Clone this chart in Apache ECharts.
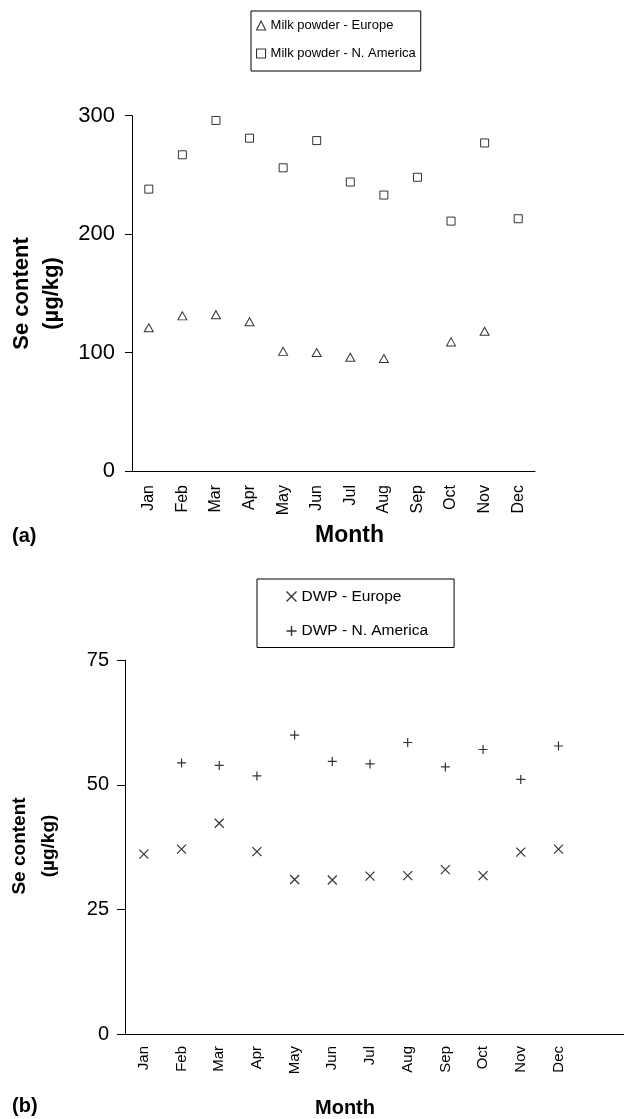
<!DOCTYPE html>
<html>
<head>
<meta charset="utf-8">
<script src="https://cdn.jsdelivr.net/npm/echarts@6/dist/echarts.min.js"></script>
<style>
  html, body { margin: 0; padding: 0; background: #fff; }
  #chart { width: 624px; height: 1119px; }
</style>
</head>
<body>
<div id="chart"></div>
<script>
// data
const months = ['Jan', 'Feb', 'Mar', 'Apr', 'May', 'Jun', 'Jul', 'Aug', 'Sep', 'Oct', 'Nov', 'Dec']
const milkEurope = [121, 131, 132, 126, 101, 100, 96, 95, null, 109, 118, null]
const milkNAmerica = [238, 267, 296, 281, 256, 279, 244, 233, 248, 211, 277, 213]
const dwpEurope = [36.1, 37.1, 42.3, 36.6, 31.0, 30.9, 31.7, 31.8, 33.0, 31.8, 36.5, 37.1]
const dwpNAmerica = [null, 54.4, 53.9, 51.8, 60.0, 54.7, 54.2, 58.5, 53.6, 57.1, 51.1, 57.8]
const ticksA = [0, 100, 200, 300]
const ticksB = [0, 25, 50, 75]

const FONT = '"Liberation Sans", Arial, Helvetica, sans-serif'
const BLACK = '#000'

const clean = arr => arr.map(v => (v == null ? '-' : v))

const xAxisBase = (gridIndex, data, fontSize, margin) => ({
  type: 'category',
  gridIndex,
  data,
  boundaryGap: true,
  axisLine: { lineStyle: { color: BLACK, width: 1 } },
  axisTick: { show: false },
  axisLabel: { rotate: 90, interval: 0, color: BLACK, fontFamily: FONT, fontSize, margin },
  splitLine: { show: false }
})

const yAxisBase = (gridIndex, ticks, fontSize, margin, tickLen) => ({
  type: 'value',
  gridIndex,
  min: ticks[0],
  max: ticks[ticks.length - 1],
  interval: ticks[1] - ticks[0],
  axisLine: { show: true, lineStyle: { color: BLACK, width: 1 } },
  axisTick: { show: true, inside: false, length: tickLen, lineStyle: { color: BLACK } },
  axisLabel: { color: BLACK, fontFamily: FONT, fontSize, margin },
  splitLine: { show: false }
})

const openStyle = { color: '#fff', borderColor: BLACK, borderWidth: 1 }
const lineStyle = { color: 'none', borderColor: BLACK, borderWidth: 1.2 }
const crossPath = 'path://M0,0L10,10M10,0L0,10'
const plusPath = 'path://M5,0L5,10M0,5L10,5'

const legendBase = {
  orient: 'vertical',
  borderColor: BLACK,
  borderWidth: 1,
  borderRadius: 0,
  selectedMode: false
}

const chart = echarts.init(document.getElementById('chart'))

chart.setOption({
  animation: false,
  backgroundColor: '#fff',
  grid: [
    { left: 132, top: 115.7, width: 403, height: 355.3 },
    { left: 125, top: 660.3, width: 490, height: 373.7 }
  ],
  xAxis: [
    xAxisBase(0, months, 16, 14),
    xAxisBase(1, months.concat(['']), 15, 12)
  ],
  yAxis: [
    yAxisBase(0, ticksA, 22, 17, 7),
    yAxisBase(1, ticksB, 20, 16, 8)
  ],
  legend: [
    Object.assign({}, legendBase, {
      left: 251,
      top: 11,
      padding: [7, 5, 10, 5],
      itemGap: 13,
      itemWidth: 9,
      itemHeight: 9,
      itemStyle: { borderWidth: 1.1 },
      textStyle: { color: BLACK, fontFamily: FONT, fontSize: 13, lineHeight: 15 },
      data: ['Milk powder - Europe', 'Milk powder - N. America']
    }),
    Object.assign({}, legendBase, {
      left: 257,
      top: 579,
      padding: [9, 26, 8, 27],
      itemGap: 17.5,
      itemWidth: 10,
      itemHeight: 10,
      itemStyle: { borderWidth: 1.4 },
      textStyle: { color: BLACK, fontFamily: FONT, fontSize: 15.5, lineHeight: 17 },
      data: ['DWP - Europe', 'DWP - N. America']
    })
  ],
  series: [
    {
      name: 'Milk powder - Europe',
      type: 'scatter',
      xAxisIndex: 0,
      yAxisIndex: 0,
      symbol: 'triangle',
      symbolSize: [9, 8],
      itemStyle: openStyle,
      silent: true,
      data: clean(milkEurope)
    },
    {
      name: 'Milk powder - N. America',
      type: 'scatter',
      xAxisIndex: 0,
      yAxisIndex: 0,
      symbol: 'rect',
      symbolSize: 8,
      itemStyle: openStyle,
      silent: true,
      data: clean(milkNAmerica)
    },
    {
      name: 'DWP - Europe',
      type: 'scatter',
      xAxisIndex: 1,
      yAxisIndex: 1,
      symbol: crossPath,
      symbolSize: 9,
      itemStyle: lineStyle,
      silent: true,
      data: clean(dwpEurope)
    },
    {
      name: 'DWP - N. America',
      type: 'scatter',
      xAxisIndex: 1,
      yAxisIndex: 1,
      symbol: plusPath,
      symbolSize: 9,
      itemStyle: lineStyle,
      silent: true,
      data: clean(dwpNAmerica)
    }
  ],
  graphic: [
    {
      type: 'text', x: 36.7, y: 293.5, rotation: Math.PI / 2,
      style: { text: 'Se content\n(µg/kg)', fontFamily: FONT, fontSize: 22, fontWeight: 'bold',
        lineHeight: 30, fill: BLACK, align: 'center', verticalAlign: 'middle' }
    },
    {
      type: 'text', x: 349.5, y: 536,
      style: { text: 'Month', fontFamily: FONT, fontSize: 23, fontWeight: 'bold',
        fill: BLACK, align: 'center', verticalAlign: 'middle' }
    },
    {
      type: 'text', x: 12, y: 536,
      style: { text: '(a)', fontFamily: FONT, fontSize: 20, fontWeight: 'bold',
        fill: BLACK, align: 'left', verticalAlign: 'middle' }
    },
    {
      type: 'text', x: 34.5, y: 846, rotation: Math.PI / 2,
      style: { text: 'Se content\n(µg/kg)', fontFamily: FONT, fontSize: 19, fontWeight: 'bold',
        lineHeight: 29, fill: BLACK, align: 'center', verticalAlign: 'middle' }
    },
    {
      type: 'text', x: 345, y: 1108,
      style: { text: 'Month', fontFamily: FONT, fontSize: 20, fontWeight: 'bold',
        fill: BLACK, align: 'center', verticalAlign: 'middle' }
    },
    {
      type: 'text', x: 12, y: 1106,
      style: { text: '(b)', fontFamily: FONT, fontSize: 20, fontWeight: 'bold',
        fill: BLACK, align: 'left', verticalAlign: 'middle' }
    },
    // the lower x axis runs on past the last band to the edge
    {
      type: 'line', silent: true,
      shape: { x1: 615, y1: 1034.5, x2: 624, y2: 1034.5 },
      style: { stroke: BLACK, lineWidth: 1 }
    }
  ]
})
</script>
</body>
</html>
